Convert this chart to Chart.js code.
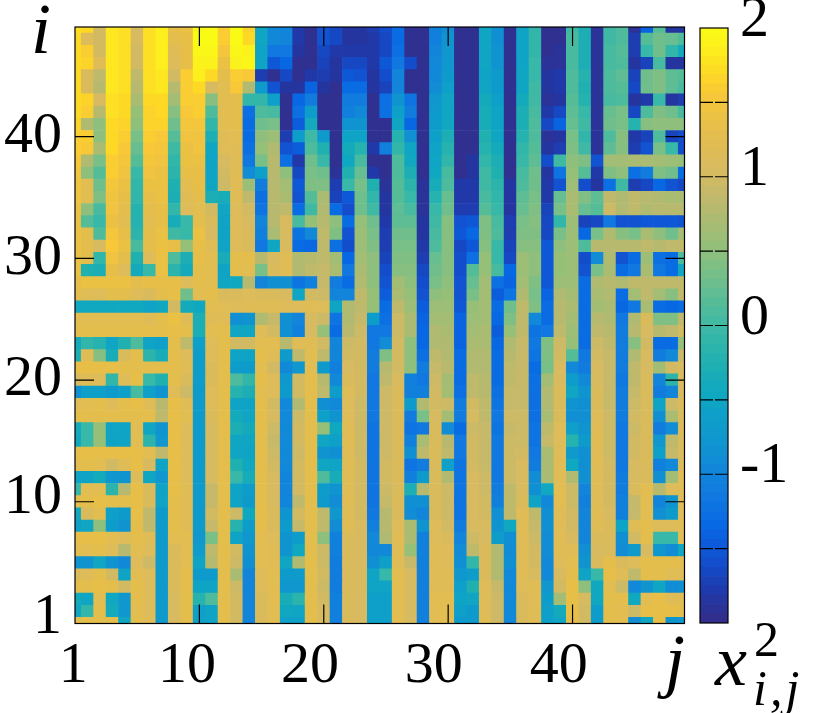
<!DOCTYPE html>
<html><head><meta charset="utf-8">
<style>
html,body{margin:0;padding:0;background:#fff;width:832px;height:713px;overflow:hidden}
canvas{position:absolute;left:0;top:0}
.t{position:absolute;font-family:"Liberation Serif",serif;font-style:italic;color:#000;line-height:1;white-space:nowrap}
</style>
<script src="https://cdn.jsdelivr.net/npm/chart.js@4"></script>
</head><body>
<canvas id="heat" width="832" height="713"></canvas>
<canvas id="bar" width="832" height="713"></canvas>
<span class="t" style="left:31px;top:-7px;font-size:72px">i</span>
<span class="t" style="left:665px;top:624px;font-size:72px">j</span>
<span class="t" style="left:715px;top:625px;font-size:72px">x</span>
<span class="t" style="left:754px;top:614px;font-size:50px;font-style:normal">2</span>
<span class="t" style="left:753px;top:663px;font-size:50px;letter-spacing:3px">i,j</span>
<script>
const row49=[1.75,1.7,1,1.8,1.75,1.05,1.75,1.85,1.35,1.4,1.95,2,1.6,2,1.65,-.5,-.95,-1,-1.8,-1.95,-1.55,-1.65,-1.85,-1.85,-1.75,-1.6,-1.3,-1.95,-1.95,-1.05,-.9,-1.95,-1.95,-.5,-.85,-1.95,-.55,-.1,-1.95,-1.95,0,-.3,-1.9,0,.1,-1.9,-1.4,.15,-1.85,-1.85];
const row48=[1.7,1.15,1,1.8,1.75,1.05,1.75,1.85,1.3,1.35,2,2,1.6,2,1.7,-.5,-.95,-1,-1.8,-1.95,-1.55,-1.65,-1.85,-1.85,-1.8,-1.65,-1.3,-1.95,-1.95,-1.05,-.8,-1.95,-1.95,-.5,-.85,-1.95,-.55,-.1,-1.95,-1.95,.05,-.3,-1.9,0,.1,-1.75,.15,.3,.25,.1];
const row47=[1.7,1.6,1,1.8,1.75,1,1.75,1.85,1.2,1.35,1.95,1.95,1.5,1.95,1.9,-.55,-1.15,-1.15,-1.85,-1.95,-1.65,-1.8,-1.8,-1.8,-1.8,-1.65,-1.25,-1.95,-1.95,-1,-.75,-1.95,-1.95,-.5,-.8,-1.95,-.55,-.1,-1.95,-1.9,.05,-.3,-1.9,.05,.15,-1.75,-.05,.3,-.1,-.4];
const row46=[1.7,1.65,1.2,1.8,1.75,1,1.75,1.85,1.15,1.35,1.9,1.9,1.4,1.9,1.95,-.55,-1.5,-1.35,-1.95,-1.95,-1.7,-1.85,-1.65,-1.65,-1.8,-1.5,-1.15,-1.6,-1.95,-.95,-.75,-1.95,-1.95,-.5,-.8,-1.95,-.55,-.05,-1.9,-1.9,.05,-.3,-1.9,.05,.1,-1.85,-1.7,.05,-1.85,-1.85];
const row45=[1.7,1.1,.85,1.8,1.75,.85,1.75,1.8,1,1.6,1.85,1.7,1.3,1.6,1.55,-1.75,-1.95,-1.65,-1.95,-1.8,-1.75,-1.85,-1.5,-1.55,-1.85,-1.6,-1,-1.95,-1.95,-.95,-.7,-1.95,-1.95,-.55,-.7,-1.95,-.5,-.05,-1.85,-1.8,.1,-.2,-1.9,.1,.2,-1.7,.3,.4,.2,.15];
const row44=[1.7,1.1,.8,1.8,1.75,.8,1.75,1.8,.8,1.6,1.7,1.05,1.25,1.55,.75,-.7,-1.55,-1.85,-1.85,-1.4,-1.85,-1.95,-1.3,-1.3,-1.85,-1.7,-1,-1.95,-1.95,-.9,-.6,-1.95,-1.95,-.5,-.7,-1.95,-.5,0,-1.85,-1.8,.1,-.25,-1.9,.1,.15,-1.65,.3,.4,.2,.05];
const row43=[1.7,1.65,1.05,1.75,1.7,.7,1.7,1.7,.65,1.6,1.6,.45,1.25,1.3,-.1,-.1,-.6,-1.95,-1.35,-1.1,-1.95,-1.95,-1.1,-1.1,-1.95,-1.25,-.8,-1.2,-1.95,-.75,-.5,-1.95,-1.95,-.4,-.6,-1.95,-.4,0,-1.9,-1.85,.15,-.2,-1.9,.05,.1,-1.85,-1.8,-.05,-1.85,-1.75];
const row42=[1.7,1.6,.8,1.75,1.7,.55,1.65,1.7,.45,1.55,1.6,.1,1.25,1.3,-1.25,.1,.05,-1.95,-1.25,-.65,-1.95,-1.95,-1.05,-.95,-1.95,-1.25,-.6,-1.1,-1.95,-.7,-.5,-1.95,-1.95,-.35,-.55,-1.95,-.3,.05,-1.8,-1.65,.2,-.05,-1.9,.25,.35,-1.65,.1,.4,.3,.05];
const row41=[1.65,.75,.5,1.7,1.65,.5,1.65,1.65,.3,1.5,1.5,-.1,1.25,1.3,-1.3,.3,.35,-1.95,-1.45,-.4,-1.95,-1.95,-.8,-.8,-1.95,-1.95,-.5,-1.35,-1.95,-.65,-.45,-1.95,-1.95,-.35,-.55,-1.95,-.3,.1,-1.65,-1.4,.25,0,-1.9,.3,.35,-.2,.45,.5,.5,.5];
const row40=[1.6,1.6,.5,1.7,1.6,.35,1.6,1.55,.15,1.45,1.45,-.3,1.2,1.25,-1.3,.5,.6,-1.75,-.65,0,-.7,-1.95,-.55,-.55,-1.95,-1.95,-.2,-.85,-1.95,-.6,-.3,-1.95,-1.95,-.25,-.5,-1.95,-.2,.1,-1.9,-1.85,.35,-.1,-1.9,.1,.45,-1.8,-1.7,.1,-1.7,-1.6];
const row39=[1.6,1.55,.7,1.7,1.55,.25,1.55,1.5,0,1.4,1.45,-.5,1.2,1.2,-1.25,.55,.75,-1.55,-1.45,.1,-.25,-1.95,-.4,-.2,-1.8,-1.05,-.1,-.5,-1.95,-.55,-.2,-1.95,-1.95,-.2,-.4,-1.95,-.1,.15,-1.85,-1.75,.4,0,-1.9,.2,.45,-1.75,-1.55,.35,-.05,-1.6];
const row38=[1.55,.75,.35,1.6,1.5,.15,1.5,1.45,-.1,1.4,1.4,-.55,1.05,1.2,-1.15,.35,.8,-1.25,-1.8,.3,-.05,-1.95,-.45,.05,-1.95,-1.95,.1,-.45,-1.95,-.5,-.1,-1.95,-1.85,-.1,-.3,-1.95,-.05,.2,-1.6,0,.5,.4,-1.55,.65,.65,.7,.7,.65,.6,.55];
const row37=[1.5,.5,.15,1.6,1.45,-.05,1.45,1.4,-.15,1.35,1.35,-.55,1,1.2,-.9,-.6,.8,.5,-1.65,.35,.3,-1.9,-.25,.25,-1.8,-1.95,.1,-.3,-1.95,-.45,.05,-1.95,-1.85,0,-.25,-1.95,.05,.3,-1.85,-1.2,.55,.15,-1.8,.4,.5,-1.25,-1.1,.4,.3,-1.3];
const row36=[1.45,1.25,.3,1.5,1.4,-.1,1.4,1.4,-.25,1.25,1.35,-.5,.95,1.2,.6,-1.1,.8,.65,-1.5,.4,.4,-1.75,-.05,.35,-.25,-1.9,.15,-.15,-1.9,-.35,.1,-1.8,-1.8,0,-.15,-1.85,.1,.3,-1.8,-1.55,.6,-1.6,-1.85,-1.25,0,-1.75,-1.65,-1.35,-1.55,-1.65];
const row35=[1.45,1.25,.4,1.45,1.35,-.1,1.35,1.4,-.3,1.2,1.3,-.3,-.35,1.2,.85,-1.25,.8,.7,-1.55,.15,.7,-1.7,-1.5,.3,-.1,-1.85,.15,-.05,-1.9,-.2,.25,-1.8,-1.8,.05,-.1,-1.85,.2,.35,-1.8,.25,.7,.4,.2,.85,.75,.85,.8,.75,.7,.7];
const row34=[1.4,.5,.05,1.45,1.3,-.2,1.3,1.35,-.1,1.15,1.25,1,-.5,1.15,1,-1.2,.8,.85,-1.3,0,.75,-1.3,-1.6,.3,0,-1.85,.2,.05,-1.9,-.05,.3,-1.75,-1.75,.15,-.05,-1.85,.25,.4,-1.7,.35,.7,.25,.15,.95,.75,.85,.75,.8,.8,.8];
const row33=[1.4,.15,-.05,1.4,1.25,-.2,1.25,1.35,-.35,-.05,1.3,1.1,-.55,1.15,1.05,-1,.8,1.05,.05,.55,.8,.5,-1.3,.55,.3,-1.8,.2,.2,-1.85,0,.45,-1.55,-1.5,.4,.05,-1.75,.35,.45,-1.65,-.1,.6,-1.7,-1.65,-1.15,-1.55,-1.55,-1.5,-1.5,-1.5,-1.55];
const row32=[1.4,1.3,.1,1.5,1.35,-.15,1.3,1.4,0,-.05,1.4,1.05,-.55,1.15,1.1,-1.05,.7,1.05,-1.2,-.95,.85,.4,-1.55,.6,.35,-1.75,.3,.3,-1.85,.05,.45,-1.5,-1.35,.4,.1,-1.75,.4,.4,-1.65,.35,.6,-1.35,.35,.75,.45,.35,.7,.5,.3,.65];
const row31=[1.4,1.3,1.05,1.55,1.4,.05,1.3,1.4,1.35,.55,1.35,1.2,-.55,1.15,1.1,-1.15,-.5,1.05,-1.3,-1.35,.85,-1.25,-1.6,.6,.4,-1.75,.35,.35,-1.8,.1,.45,-1.65,-1.5,.45,-.05,-1.7,.45,.45,-1.5,.5,.6,.1,.8,.8,.8,.8,.85,.8,.85,.85];
const row30=[1.4,1.3,-.1,1.45,1.3,-.25,1.15,1.4,.1,-.3,1.35,1.25,-.35,1.3,1.3,.8,1.05,1.2,.75,.8,.85,.65,-1.35,.65,.5,-1.7,.4,.4,-1.75,.25,.45,-1.6,-1.25,.55,-.05,-1.65,.6,.5,-1.5,.55,.6,-1.6,-.9,.75,-1.55,-1.3,.6,-1.25,-1.3,.1];
const row29=[1.4,-.25,-.3,1.35,1.15,-.4,-.05,1.4,-.15,-.4,1.3,1.25,-.55,1.3,1.25,.35,1.1,1.2,.75,.85,.9,.7,-1.15,.7,.5,-1.6,.45,.45,-1.65,.3,.45,-1.6,.15,.55,.05,-1.35,.6,.5,-1.5,.55,.6,-1.55,.35,.7,-1.3,-1.15,.7,-1.15,-1.3,-.45];
const row28=[1.35,1.4,1.4,1.4,1.4,1.3,1.35,1.35,1.35,1.15,1.3,1.25,-.5,-.45,.8,-1,-.85,-.85,-1.2,-1.05,.9,-1.1,-1.3,.75,.5,-1.55,.65,.5,-1.6,.35,.5,-1.55,.25,.65,-1.25,-1.4,.65,.4,-1.5,.6,.6,-1.3,.75,.8,.75,.85,.85,.85,.85,.85];
const row27=[1.3,1.2,1.15,1.3,1.3,1.15,1.1,1.3,1.35,.3,1.25,1.3,1.1,1.1,1.15,1.1,1.1,1.05,-.5,1,.95,-1,-1,.85,.55,-1.45,.7,.55,-1.55,.5,.55,-1.55,.35,.65,-1.45,-1.2,.75,.35,-1.4,.75,.65,-1.3,.7,.75,-1.3,.65,.85,.65,.45,.85];
const row26=[-.45,-.45,-.45,-.45,-.45,-.45,-.55,-.45,1,-.4,-.45,1.25,1.2,1.15,1.2,1.2,1.2,1.15,1.15,1.2,1.15,-.55,.75,.85,.55,-1.3,.85,.6,-1.45,.6,.6,-1.5,.55,.65,-1.3,.3,.85,.4,-1.3,.8,.7,-1.3,.65,.7,-1.35,-1.15,.7,-1.3,-1.35,-1.3];
const row25=[1.25,1.25,1.25,1.25,1.25,1.25,1.2,1.3,1.4,1.2,-.3,1.2,1.2,-.85,-.8,.75,.9,-.85,-1,1.05,.95,-1.2,.75,.9,-.65,-1.25,.95,.7,-1.4,.65,.65,-1.4,.6,.65,-1.35,.4,.85,-.95,-1.3,.8,.65,-1.3,.8,.75,-1.15,.75,1.1,.4,.4,.85];
const row24=[1.3,1.3,1.3,1.3,1.3,1.3,1.3,1.3,1.35,1.3,-.3,1.25,1.3,-.5,-.5,1.2,1,-.85,-1.05,1.05,.55,-1.3,.8,.95,-1.15,-1.15,.95,.7,-1.35,.75,.7,-1.4,.65,.7,-1.45,.55,.85,-1.2,-1.15,.85,.6,-1.3,.85,.8,-1.1,.8,1.05,.8,.85,1];
const row23=[-.4,-.1,-.2,-.5,-.25,.1,-.55,-.6,1.3,.85,-.6,1.15,1.3,1,1,1.25,1.25,.8,1.2,1.2,1,-1,.95,1,-1.15,-.9,1,.5,-1.35,.75,.75,-1.4,.7,.7,-1.35,.75,.9,-1.15,.4,.95,.55,-1.3,.95,.85,-1.1,.45,1,-1.3,-1.3,.55];
const row22=[-.3,1.2,.45,-.35,1.1,1.3,-.15,-.35,1.3,1.15,-.65,1.15,1.3,-.55,-.55,1.3,1.2,-.7,.85,1.25,.85,-1,1,1,-1.1,.4,1,.5,-1.25,.85,.75,-1.3,.75,.75,-1.3,.8,.9,-1.2,.4,1,.15,-1.15,1,.9,-1.1,.75,1.05,-1.1,-.95,.9];
const row21=[1.35,1.35,1.35,1.35,1.3,1.3,1.3,1.3,1.3,1.2,-.65,1.1,1.3,-.65,-.7,1.25,1,-.95,-.75,1.25,-.7,-1.05,1.05,1,-1.1,.8,1,.5,-1.1,.9,.8,-1.3,.75,.75,-1.3,.85,.9,-1.3,.35,1.05,-.95,-1.1,1.05,.9,-1.1,.85,1.05,.65,1,1.05];
const row20=[1.05,1.2,1.15,-.1,1.15,1.35,-.05,-.25,1.3,1.1,-.65,1.1,1.3,.1,-.1,1.3,1.15,-.75,1,1.3,.8,-.95,1.1,1,-1.15,.85,1.05,-1.05,-1.15,.95,.65,-1.3,.85,.8,-1.3,.85,.9,-1.25,.65,1.05,-.65,-.95,1.05,.9,-1.15,.85,1.1,-1,-.15,1.05];
const row19=[-.85,-.6,-.6,-.7,-.6,.05,-.6,-.8,1.2,.95,-.7,1.15,1.3,-.2,-.3,1.25,1.15,-.7,1,1.3,.85,-.65,1.15,1,-1.15,.95,1.1,-1.05,-1.05,1,.65,-1.25,.85,.8,-1.25,.9,.9,-1.25,.75,1.1,-.5,-.8,1.1,.9,-1.1,.9,1.1,-1.1,-1,1.05];
const row18=[1.2,1.25,1.3,1.15,1.3,1.35,1.2,.8,1.35,1.2,-.7,1.15,1.3,-.55,-.55,1.3,1,-.95,.75,1.3,-.85,-.95,1.15,.95,-1.15,.95,1.1,-.7,.75,1,.95,-1.1,1,.85,-1.2,.9,.9,-1.25,.75,1.1,-.8,-.85,1.1,.9,-1.1,.95,1.1,-.55,.95,1.1];
const row17=[1.3,1.3,1.3,1.3,1.3,1.3,1.3,.85,1.35,1.25,-.7,1.1,1.3,-.4,-.5,1.3,1.05,-.95,.95,1.3,-.6,-.8,1.15,.95,-1.15,.95,1.1,-1.1,.35,1.05,.65,-1.1,1.05,.85,-1.15,.95,.95,-1.25,.7,1.1,-.85,-.85,1.15,.95,-1.1,1,1.1,-.85,.7,1.1];
const row16=[-.4,-.05,.55,-.55,-.55,1.25,-.5,-.8,1.35,1.15,-.7,1.05,1.3,-.3,-.4,1.3,.95,-.95,1,1.3,.55,-.45,1.2,.95,-1.2,.95,1.1,-1.2,-1.15,1.1,-.9,-1.3,.95,.9,-1.2,.9,.95,-1.2,.85,1.15,-.6,-.8,1.2,.95,-1.15,.95,1.1,-1.1,-.9,1.1];
const row15=[-.45,-.05,.55,-.55,-.55,1.25,-.15,-.75,1.35,1.15,-.7,1.05,1.3,-.5,-.5,1.3,.9,-.95,1,1.3,-.5,-.6,1.2,.95,-1.2,.95,1.1,-1.05,.7,1.1,.8,-1.15,1,.9,-1.15,.95,.95,-1.2,.9,1.15,-.2,-.7,1.2,.95,-1.15,1,1.1,-.75,.85,1.1];
const row14=[1.35,1.35,1.35,1.35,1.35,1.35,1.25,.85,1.35,1.15,-.7,1.05,1.3,-.5,-.55,1.3,.95,-.95,.95,1.3,-.8,-.85,1.2,.95,-1.2,.95,1.1,-.85,.85,1.1,.85,-1.15,1,.9,-1.15,.95,1,-1.15,.7,1.15,-.7,-.85,1.2,.95,-1.15,1,1.1,-.6,.9,1.1];
const row13=[1.25,1.3,1.25,1,1.2,1.35,1.05,-.55,1.35,1.15,-.7,1.05,1.3,-.25,-.45,1.3,1,-.95,1,1.3,-.5,-.55,1.2,1,-1.2,1,1.1,-1.2,-1.1,1.1,-.6,-1.2,1,.9,-1.15,.95,1.05,-1.1,.7,1.2,-.45,-.85,1.2,1,-1.15,1.05,1.1,-1.05,-.95,1.1];
const row12=[-.55,-.55,-.4,-.75,-.8,1.15,-.5,-.75,1.35,1.15,-.7,1.05,1.3,-.05,-.35,1.3,1.05,-1,1,1.3,.1,-.35,1.2,1,-1.2,1,1.1,-1.05,-.7,1.1,.75,-1.2,1.05,.95,-1.15,.95,1.05,-.9,.7,1.2,.75,-.85,1.2,1,-1.1,1.05,1.1,-.85,.65,1.2];
const row11=[-.05,1.25,1.25,-.15,.8,1.35,1.1,-.55,1.35,1.2,-.7,.9,1.3,-.55,-.65,1.3,1.05,-1,1,1.3,-.65,-.8,1.2,1,-1.2,.95,1.1,-.3,.8,1.1,.95,-1.2,1.05,.95,-1.1,.85,1.05,-.85,-.45,1.25,.95,-1,1.2,1,-1.1,1.1,1.25,.8,1.15,1.2];
const row10=[1.3,1.3,1.35,1.3,1.3,1.35,1.1,-.55,1.3,1.2,-.7,.9,1.3,-.55,-.7,1.3,1.05,-1,.85,1.3,-.7,-.9,1.2,1,-1.2,.9,1.1,-.85,-.85,1.1,.95,-1.2,1.05,1,-1.05,.85,1.1,-.55,-.95,1.25,.95,-1.05,1.2,1,-1.05,.9,1.25,-1,-.8,1.15];
const row9=[-.45,1.1,1.25,-.6,-.7,1.35,.85,-.7,1.3,1.2,-.7,1,1.3,.95,-.45,1.3,1.1,-.8,1,1.3,.85,-.75,1.2,1,-1.15,.8,1.1,-.9,-1,1.1,.95,-1.2,1.05,1,-.85,.85,1.2,.85,-.85,1.2,1,-1,1.2,1.05,-1.05,.9,1.25,-.85,-.7,1.15];
const row8=[-.6,-.5,.5,-.65,-.8,1.3,.85,-.7,1.3,1.2,-.7,.9,1.3,-.2,-.65,1.3,1.1,-.7,.9,1.3,.85,-.9,1.2,1.05,-1.05,.8,1.15,.7,-.8,1.15,1,-1.1,1.05,1.05,-.8,-.45,1.2,.9,-.85,1.2,1,-1,1.2,1.1,-.55,1.2,1.3,1.15,1.15,1.2];
const row7=[1.35,1.35,1.35,1.25,1.15,1.3,1.2,-.7,1.25,1.25,-.75,.35,1.3,-.55,-.75,1.25,1.15,-.8,-.65,1.3,.5,-1.05,1.1,1.05,-.95,.75,1.2,.7,-1.05,1.15,1.1,-1,.95,1.05,-.65,-.85,1.2,.95,-.9,1.2,1.05,-1,1.1,1.1,-.85,1,1.3,-.05,-.05,1.2];
const row6=[1.25,1.25,1.3,1.15,.8,1.25,1.15,-.7,1.1,1.25,-.65,.85,1.3,1,-.8,1.25,1.2,-.8,-.45,1.3,.95,-1.05,1.1,1.05,-.95,-.95,1.2,.55,-1.05,1.2,1.15,-.9,.85,1.1,.75,-.9,1.2,1,-.9,1.2,1.2,-.85,1.05,1.1,-.9,-.7,1.05,-.75,-.9,-.45];
const row5=[-.8,-.8,-.5,-.8,-.95,1.15,.95,-.7,1.1,1.25,-.55,.8,1.3,.95,-.85,1.25,1.2,-.5,.75,1.3,.95,-1.1,1.1,1.05,-.85,-.6,1.2,.9,-1.05,1.2,1.15,-.85,-.1,1.1,.75,-.85,1.2,1,-.95,1.15,1.25,-.8,1.1,1.3,1.1,1.15,1.3,1.3,1.3,1.25];
const row4=[1.1,1.15,1.3,1,-.55,1.25,1.15,-.7,1.1,1.3,-.7,-.7,1.3,.7,-1,1.15,1.25,-.7,-.7,1.3,1,-1.1,1.1,1.05,-.55,-.05,1.25,1.05,-1.05,1.2,1.2,-.75,-.65,1.1,.75,-.95,1.2,1.05,-.95,1.05,1.3,-.55,-.05,1.35,1.2,.85,1.3,1.3,1.2,1.2];
const row3=[1.3,1.3,1.35,1.3,1,1.3,1.15,-.7,1.1,1.3,-.55,-.55,1.3,.95,-1,1.15,1.25,-.75,-.75,1.3,.95,-1.1,1.1,1.05,-.55,-.55,1.25,1.05,-1.05,1.2,1.2,-.6,-.25,1.15,.9,-.95,1.15,1.2,-.75,1,1.35,.5,-.45,1.25,.95,-.95,-.8,-.5,-.9,-.85];
const row2=[-.4,-.5,1.25,-.45,-.75,1.3,1.15,-.7,1.05,1.3,-.2,.1,1.3,1,-1,1.1,1.25,-.35,-.15,1.3,1,-1.05,1.1,1.05,-.6,-.6,1.25,1.05,-1.05,1.25,1.25,-.55,-.5,1.15,.95,-.95,1.1,1.2,-.65,.65,1.35,1.05,-.45,1.3,1.3,-.45,1.25,1.35,1.2,1.2];
const row1=[-.5,-.1,1.3,-.4,-.75,1.25,1.15,-.7,1.05,1.3,-.6,-.55,1.3,1,-1,1.1,1.25,-.45,-.5,1.3,1.05,-1.05,1.1,1.05,-.6,-.6,1.25,1.05,-1.05,1.25,1.25,-.6,-.7,1.15,.95,-.95,1.1,1.2,-.6,-.4,1.35,1,-.65,1.3,1.25,.95,1.35,1.35,1.35,1.3];
const row0=[1.3,1.3,1.3,1.3,-.5,1.3,1.15,-.7,1.05,1.3,-.6,-.55,1.3,1,-1,1.1,1.25,-.6,-.6,1.3,1.05,-1.05,1.1,1.05,-.6,-.6,1.25,1.05,-1.05,1.25,1.25,-.7,-.7,1.2,.95,-.95,1.1,1.2,-.6,-.5,1.3,1,-.65,1.3,1.25,-.9,-.5,1.35,-.8,-.75];
const rowsFromBottom=[row0,row1,row2,row3,row4,row5,row6,row7,row8,row9,row10,row11,row12,row13,row14,row15,row16,row17,row18,row19,row20,row21,row22,row23,row24,row25,row26,row27,row28,row29,row30,row31,row32,row33,row34,row35,row36,row37,row38,row39,row40,row41,row42,row43,row44,row45,row46,row47,row48,row49];

const xTickLabels=['1','10','20','30','40'];
const xLabelAt=[-0.15,9,18.9,28.85,38.9];
const yTickLabels=['1','10','20','30','40'];
const yLabelAt=[0.45,10.3,20,30,40];
const axisMarks=[10,20,30,40];
const barTickLabels=['2','1','0','-1'];
const barLabelAt=[2,1,0,-1];
const barMarks=[-1.5,-1,-0.5,0,0.5,1,1.5];
const barEdges=[-2,-1.9375,-1.875,-1.8125,-1.75,-1.6875,-1.625,-1.5625,-1.5,-1.4375,-1.375,-1.3125,-1.25,-1.1875,-1.125,-1.0625,-1,-0.9375,-0.875,-0.8125,-0.75,-0.6875,-0.625,-0.5625,-0.5,-0.4375,-0.375,-0.3125,-0.25,-0.1875,-0.125,-0.0625,0,0.0625,0.125,0.1875,0.25,0.3125,0.375,0.4375,0.5,0.5625,0.625,0.6875,0.75,0.8125,0.875,0.9375,1,1.0625,1.125,1.1875,1.25,1.3125,1.375,1.4375,1.5,1.5625,1.625,1.6875,1.75,1.8125,1.875,1.9375,2];
const cmapValues=[-2,-1.95,-1.8,-1.65,-1.5,-1.35,-1.15,-.95,-.8,-.6,-.45,-.25,-.05,.15,.35,.55,.75,.9,1.05,1.2,1.35,1.55,1.7,1.85,2];
const cmapColors=['#352a87','#303090','#2038a8','#1648c4','#0e58d8','#0868e4','#1078e0','#1288d8','#0f94d0','#0ea0c8','#10a8c0','#20b0b0','#38b8a8','#55bc98','#78bf88','#96bf78','#b0ba70','#c6b96a','#d8bb60','#dfbc55','#e7bf48','#f8c838','#fdd925','#fdee1e','#f9fb15'];

function hexRgb(h){return [1,3,5].map(i=>parseInt(h.substr(i,2),16));}
function colorOf(v){
  let k=0; while(k<cmapValues.length-2 && v>cmapValues[k+1]) k++;
  const t=Math.min(1,Math.max(0,(v-cmapValues[k])/(cmapValues[k+1]-cmapValues[k])));
  const a=hexRgb(cmapColors[k]),b=hexRgb(cmapColors[k+1]);
  return 'rgb('+a.map((c,n)=>Math.round(c+(b[n]-c)*t)).join(',')+')';
}
const FONT={family:'"Liberation Serif",serif',size:58};
const LINE='#000';
function noPad(s){s.paddingTop=0;s.paddingBottom=0;s.paddingLeft=0;s.paddingRight=0;}

const heatFrame={id:'heatFrame',afterDatasetsDraw(c){
  const {ctx,chartArea:a,scales:{x,y}}=c; const L=19;
  ctx.save(); ctx.strokeStyle=LINE; ctx.lineWidth=1.2;
  ctx.strokeRect(a.left,a.top,a.right-a.left,a.bottom-a.top);
  ctx.beginPath();
  axisMarks.forEach(m=>{
    const px=x.getPixelForValue(m),py=y.getPixelForValue(m);
    ctx.moveTo(px,a.bottom);ctx.lineTo(px,a.bottom-L);
    ctx.moveTo(px,a.top);ctx.lineTo(px,a.top+L);
    ctx.moveTo(a.left,py);ctx.lineTo(a.left+L,py);
    ctx.moveTo(a.right,py);ctx.lineTo(a.right-L,py);
  });
  ctx.stroke(); ctx.restore();
}};
new Chart(document.getElementById('heat'),{
  type:'bar',
  data:{datasets:rowsFromBottom.map((vals,i)=>({
    data:vals.map((v,k)=>({x:k,y:[i-.5,i+.5]})),
    backgroundColor:vals.map(colorOf),borderWidth:0
  }))},
  options:{responsive:false,animation:false,devicePixelRatio:1,
    layout:{padding:{left:0,top:27,right:147.5,bottom:0}},
    datasets:{bar:{grouped:false,barPercentage:1,categoryPercentage:1}},
    plugins:{legend:{display:false},tooltip:{enabled:false}},
    scales:{
      x:{type:'linear',min:0,max:49,offset:false,grid:{display:false,drawTicks:false},border:{display:false},
        afterBuildTicks:s=>{s.ticks=xLabelAt.map(v=>({value:v}));},
        afterFit:s=>{s.height=89.5;noPad(s);},
        ticks:{autoSkip:false,maxRotation:0,font:FONT,color:'#000',padding:8,callback:(v,i)=>xTickLabels[i]}},
      y:{type:'linear',min:0,max:49,grid:{display:false,drawTicks:false},border:{display:false},
        afterBuildTicks:s=>{s.ticks=yLabelAt.map(v=>({value:v}));},
        afterFit:s=>{s.width=75;noPad(s);},
        ticks:{autoSkip:false,font:FONT,color:'#000',padding:13,callback:(v,i)=>yTickLabels[i]}}
    }},
  plugins:[heatFrame]
});

const barFrame={id:'barFrame',afterDatasetsDraw(c){
  const {ctx,chartArea:a,scales:{y}}=c; const L=13;
  ctx.save(); ctx.strokeStyle=LINE; ctx.lineWidth=1.2;
  ctx.strokeRect(a.left,a.top,a.right-a.left,a.bottom-a.top);
  ctx.beginPath();
  barMarks.forEach(m=>{const py=y.getPixelForValue(m);
    ctx.moveTo(a.left,py);ctx.lineTo(a.left+L,py);
    ctx.moveTo(a.right,py);ctx.lineTo(a.right-L,py);});
  ctx.stroke(); ctx.restore();
}};
new Chart(document.getElementById('bar'),{
  type:'bar',
  data:{labels:['c'],datasets:barEdges.slice(0,-1).map((e,n)=>({
    data:[[e,barEdges[n+1]]],backgroundColor:colorOf((e+barEdges[n+1])/2),borderWidth:0
  }))},
  options:{responsive:false,animation:false,devicePixelRatio:1,
    layout:{padding:{left:700,top:28,right:0,bottom:90}},
    datasets:{bar:{grouped:false,barPercentage:1,categoryPercentage:1}},
    plugins:{legend:{display:false},tooltip:{enabled:false}},
    scales:{
      x:{display:false},
      y:{position:'right',type:'linear',min:-2,max:2,grid:{display:false,drawTicks:false},border:{display:false},
        afterBuildTicks:s=>{s.ticks=barLabelAt.map(v=>({value:v}));},
        afterFit:s=>{s.width=104;noPad(s);},
        ticks:{autoSkip:false,font:FONT,color:'#000',padding:12,labelOffset:-7,callback:(v,i)=>barTickLabels[i]}}
    }},
  plugins:[barFrame]
});
</script>
</body></html>
